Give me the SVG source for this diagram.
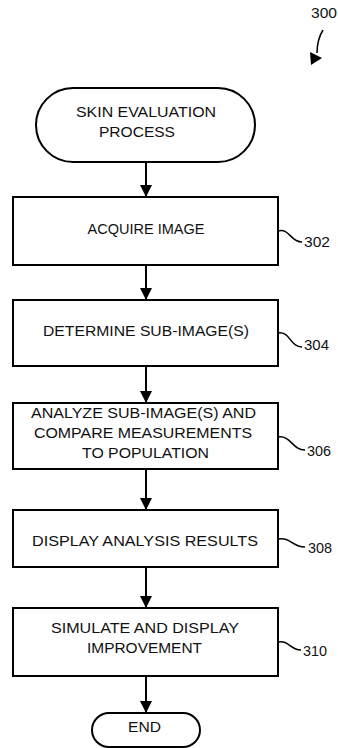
<svg xmlns="http://www.w3.org/2000/svg" width="338" height="748" viewBox="0 0 338 748">
<style>
.box{fill:#fff;stroke:#000;stroke-width:2}
.t{font-family:"Liberation Sans",Arial,sans-serif;font-size:15.5px;fill:#111;text-anchor:middle}
.lb{font-family:"Liberation Sans",Arial,sans-serif;font-size:15.5px;fill:#111}
.ln{fill:none;stroke:#000;stroke-width:2}
.lead{fill:none;stroke:#000;stroke-width:1.5}
</style>
<defs>
<marker id="ah" markerWidth="13" markerHeight="12" refX="12" refY="6" orient="auto" markerUnits="userSpaceOnUse">
<path d="M0,0 L12,6 L0,12 Z" fill="#000"/>
</marker>
</defs>
<rect width="338" height="748" fill="#fff"/>
<g id="ref300">
<text class="lb" x="311" y="18" font-size="13" textLength="26" lengthAdjust="spacingAndGlyphs">300</text>
<path class="lead" d="M323,30 C318,38 317,44 317,53"/>
<path d="M310,52 L322,58 L311,65 Z" fill="#000"/>
</g>
<g id="connectors">
<line class="ln" x1="146" y1="162" x2="146" y2="197" marker-end="url(#ah)"/>
<line class="ln" x1="146" y1="265" x2="146" y2="300" marker-end="url(#ah)"/>
<line class="ln" x1="146" y1="366" x2="146" y2="403" marker-end="url(#ah)"/>
<line class="ln" x1="146" y1="469" x2="146" y2="510" marker-end="url(#ah)"/>
<line class="ln" x1="146" y1="567" x2="146" y2="608" marker-end="url(#ah)"/>
<line class="ln" x1="146" y1="676" x2="146" y2="713" marker-end="url(#ah)"/>
</g>
<g id="start">
<rect class="box" x="36" y="88" width="219" height="74" rx="37" ry="37"/>
<text class="t" x="146" y="117" textLength="140" lengthAdjust="spacingAndGlyphs">SKIN EVALUATION</text>
<text class="t" x="137" y="137" textLength="76" lengthAdjust="spacingAndGlyphs">PROCESS</text>
</g>
<g id="n302">
<rect class="box" x="13" y="197" width="265" height="68"/>
<text class="t" x="146" y="234" textLength="117" lengthAdjust="spacingAndGlyphs">ACQUIRE IMAGE</text>
<path class="lead" d="M278,231 C290,228 290,242 302,242"/>
<text class="lb" x="304" y="247" textLength="26" lengthAdjust="spacingAndGlyphs">302</text>
</g>
<g id="n304">
<rect class="box" x="13" y="300" width="265" height="66"/>
<text class="t" x="146" y="335.5" textLength="206" lengthAdjust="spacingAndGlyphs">DETERMINE SUB-IMAGE(S)</text>
<path class="lead" d="M278,333 C290,331 290,347 302,347"/>
<text class="lb" x="304" y="350" textLength="25" lengthAdjust="spacingAndGlyphs">304</text>
</g>
<g id="n306">
<rect class="box" x="13" y="403" width="265" height="66"/>
<text class="t" x="143.5" y="418" textLength="225" lengthAdjust="spacingAndGlyphs">ANALYZE SUB-IMAGE(S) AND</text>
<text class="t" x="143" y="438" textLength="218" lengthAdjust="spacingAndGlyphs">COMPARE MEASUREMENTS</text>
<text class="t" x="145.5" y="458" textLength="127" lengthAdjust="spacingAndGlyphs">TO POPULATION</text>
<path class="lead" d="M278,437 C291,435 292,450 305,450"/>
<text class="lb" x="307" y="456" textLength="24" lengthAdjust="spacingAndGlyphs">306</text>
</g>
<g id="n308">
<rect class="box" x="13" y="510" width="265" height="57"/>
<text class="t" x="145" y="546" textLength="226" lengthAdjust="spacingAndGlyphs">DISPLAY ANALYSIS RESULTS</text>
<path class="lead" d="M278,539 C291,537 292,547 305,547"/>
<text class="lb" x="308" y="552.5" textLength="24" lengthAdjust="spacingAndGlyphs">308</text>
</g>
<g id="n310">
<rect class="box" x="13" y="608" width="265" height="68"/>
<text class="t" x="145" y="633" textLength="188" lengthAdjust="spacingAndGlyphs">SIMULATE AND DISPLAY</text>
<text class="t" x="144.5" y="653" textLength="115" lengthAdjust="spacingAndGlyphs">IMPROVEMENT</text>
<path class="lead" d="M278,642 C289,640 290,650 301,650"/>
<text class="lb" x="303" y="656" textLength="24" lengthAdjust="spacingAndGlyphs">310</text>
</g>
<g id="end">
<rect class="box" x="92" y="713" width="108" height="34" rx="17" ry="17"/>
<text class="t" x="144.5" y="731.5" textLength="33" lengthAdjust="spacingAndGlyphs">END</text>
</g>
</svg>
